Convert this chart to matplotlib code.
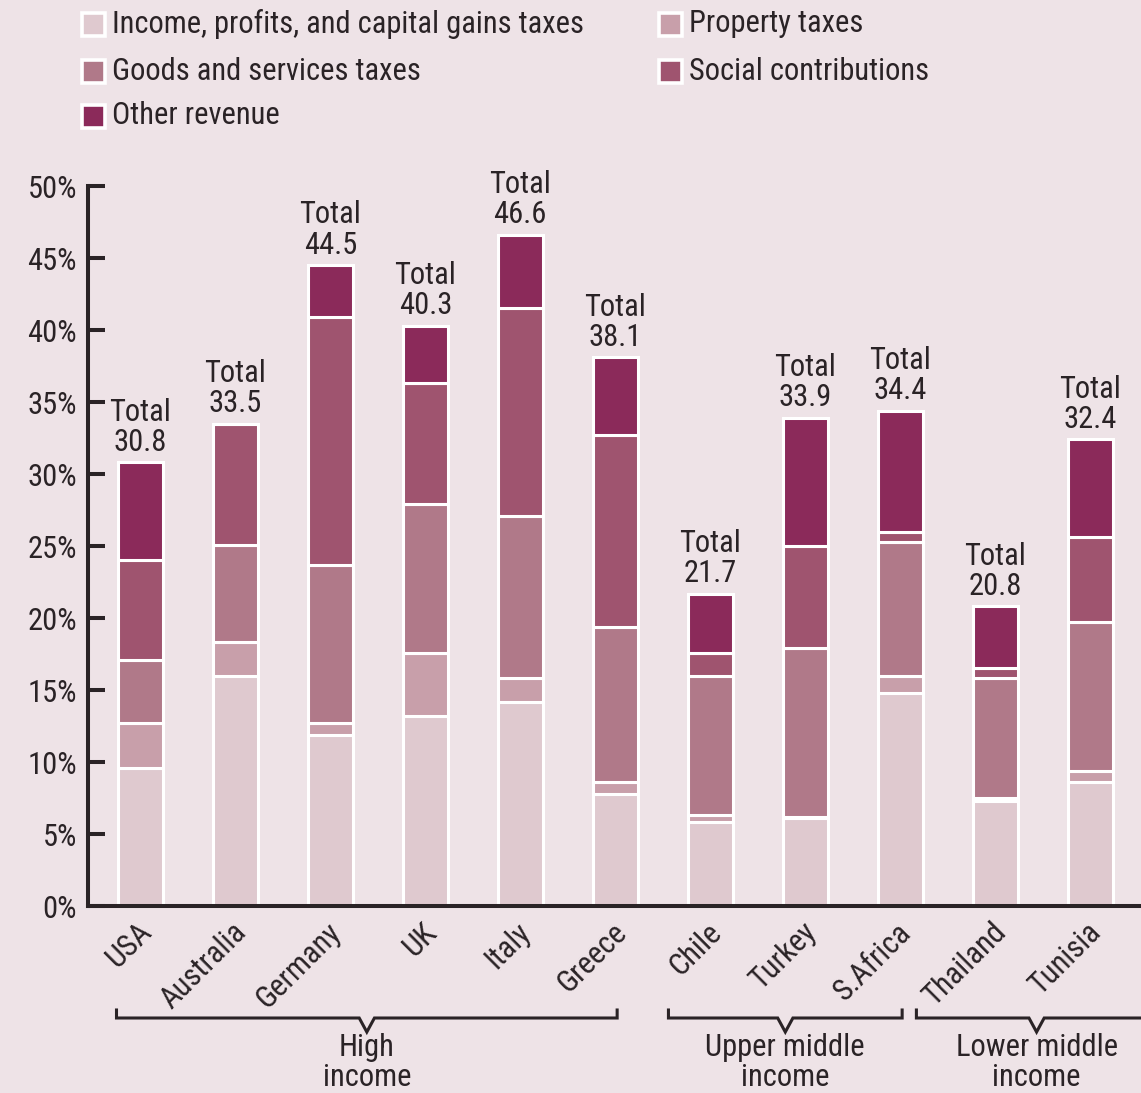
import matplotlib
matplotlib.use("Agg")
import matplotlib.pyplot as plt
from matplotlib import font_manager
from matplotlib.patches import Rectangle
from matplotlib.lines import Line2D
from matplotlib.transforms import blended_transform_factory
import numpy as np

# ---- data: general government revenue as % of GDP ----
countries = ["USA", "Australia", "Germany", "UK", "Italy", "Greece",
             "Chile", "Turkey", "S.Africa", "Thailand", "Tunisia"]
income_tax = [9.6, 16.0, 11.9, 13.2, 14.2, 7.8, 5.8, 6.1, 14.8, 7.3, 8.6]
property_tax = [3.1, 2.3, 0.8, 4.4, 1.6, 0.8, 0.5, 0.1, 1.2, 0.2, 0.8]
goods_tax = [4.4, 6.8, 11.0, 10.3, 11.3, 10.8, 9.7, 11.7, 9.3, 8.3, 10.3]
social_contrib = [6.9, 8.4, 17.2, 8.4, 14.4, 13.3, 1.6, 7.1, 0.7, 0.7, 5.9]
other_revenue = [6.8, 0.0, 3.6, 4.0, 5.1, 5.4, 4.1, 8.9, 8.4, 4.3, 6.8]

series_labels = ["Income, profits, and capital gains taxes", "Property taxes",
                 "Goods and services taxes", "Social contributions",
                 "Other revenue"]
series_colors = ["#DFC9CF", "#C89FAA", "#B07989", "#9F546F", "#8B2A5A"]

income_groups = ["High\nincome", "Upper middle\nincome", "Lower middle\nincome"]
group_members = [(0, 5), (6, 8), (9, 10)]

y_ticks = [0, 5, 10, 15, 20, 25, 30, 35, 40, 45, 50]

# ---- styling ----
BG = "#EEE3E7"
INK = "#2A2326"

available = {f.name for f in font_manager.fontManager.ttflist}
family = "Liberation Sans"
for cand in ["Liberation Sans Narrow", "Roboto Condensed", "Open Sans Condensed"]:
    if cand in available:
        family = cand
        break
FS = 22 if "Narrow" in family or "Condensed" in family else 17
plt.rcParams["font.family"] = [family, "DejaVu Sans"]
plt.rcParams["text.color"] = INK

W, H = 1141, 1093
fig = plt.figure(figsize=(W / 100, H / 100), dpi=100, facecolor=BG)
ax = fig.add_axes([88 / W, 1 - 906 / H, 1054.5 / W, 720 / H], facecolor=BG)

x = np.arange(len(countries))
stack = [income_tax, property_tax, goods_tax, social_contrib, other_revenue]
bottom = np.zeros(len(countries))
for vals, col in zip(stack, series_colors):
    vals = np.asarray(vals)
    ax.bar(x, vals, width=0.47, bottom=bottom, color=col,
           edgecolor="white", linewidth=2.2, zorder=2)
    bottom += vals

totals = bottom
for xi, tot in zip(x, totals):
    ax.annotate(f"Total\n{tot:.1f}", xy=(xi, tot), xytext=(0, 4),
                textcoords="offset points", ha="center", va="bottom",
                fontsize=FS, linespacing=1.05, color=INK)

ax.set_xlim(-0.55, 10.55)
ax.set_ylim(0, 50)
ax.set_yticks(y_ticks)
ax.set_yticklabels([f"{t}%" for t in y_ticks], fontsize=FS, color=INK)
ax.tick_params(axis="y", direction="in", length=12, width=2.9, color=INK,
               pad=8)
ax.tick_params(axis="x", length=0)
ax.set_xticks([])
for s in ["top", "right"]:
    ax.spines[s].set_visible(False)
for s in ["left", "bottom"]:
    ax.spines[s].set_linewidth(2.9)
    ax.spines[s].set_color(INK)
    ax.spines[s].set_zorder(3)

# rotated country names under each bar
xt = ax.get_xaxis_transform()
for xi, name in zip(x, countries):
    ax.text(xi - 0.04, -0.016, name, transform=xt, rotation=45,
            rotation_mode="anchor", ha="right", va="top", fontsize=FS,
            color=INK, clip_on=False)

# braces grouping countries by income level
px = 1 / 720.0  # axes fraction per pixel (vertical)
spans = [(-0.25, 5.02), (5.56, 8.02), (8.17, 10.7)]
y_end, y_line, y_dip = -(1010 - 906) * px, -(1018 - 906) * px, -(1032 - 906) * px
xfig = blended_transform_factory(ax.transData, fig.transFigure)
for (a, b), label in zip(spans, income_groups):
    m = (a + b) / 2
    d = 0.08
    xs = [a, a, m - d, m, m + d, b, b]
    ys = [y_end, y_line, y_line, y_dip, y_line, y_line, y_end]
    ax.add_line(Line2D(xs, ys, transform=xt, color=INK, lw=2.2,
                       clip_on=False, solid_joinstyle="miter"))
    ax.text(m, 1.5 / H, label, transform=xfig, ha="center",
            va="bottom", fontsize=FS, linespacing=1.03, color=INK,
            clip_on=False)

# legend in two columns across the top
legend_pos = [(82, 24), (659, 24), (82, 71), (659, 71), (82, 116)]
sq = 23
for (lx, ly), lab, col in zip(legend_pos, series_labels, series_colors):
    fig.patches.append(Rectangle((lx / W, 1 - (ly + sq / 2) / H), sq / W, sq / H,
                                 transform=fig.transFigure, facecolor=col,
                                 edgecolor="white", linewidth=2.6))
    fig.text((lx + sq + 7) / W, 1 - ly / H, lab, ha="left", va="center",
             fontsize=FS, color=INK)

fig.savefig("out.png", dpi=100, facecolor=BG)
